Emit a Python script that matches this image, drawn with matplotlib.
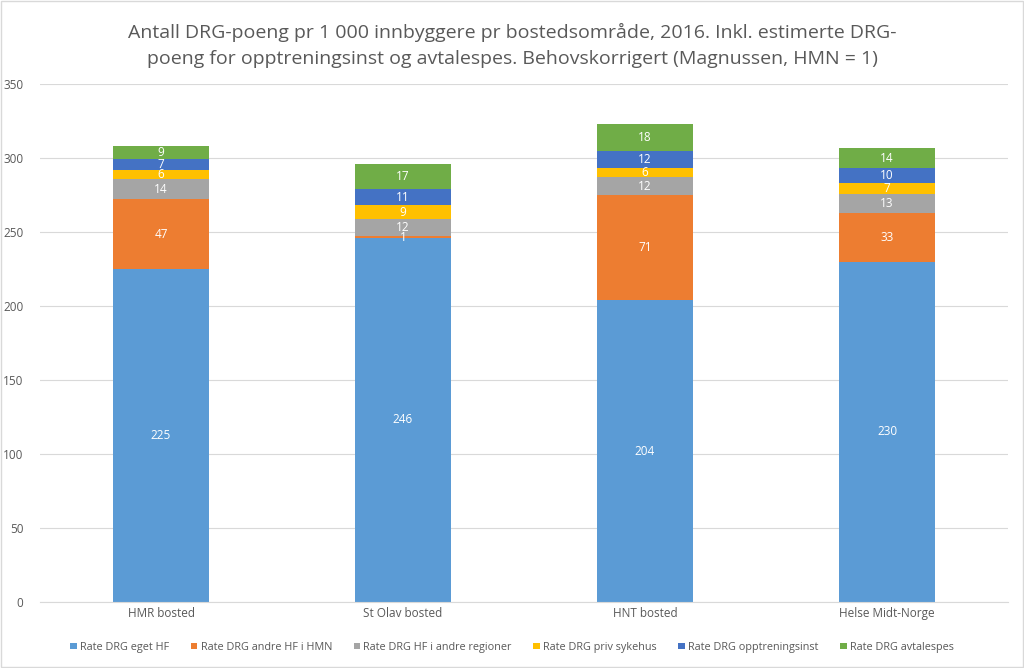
import matplotlib.pyplot as plt
import numpy as np

plt.rcParams['font.family'] = ['Open Sans', 'DejaVu Sans']

# data
steder = ["HMR bosted", "St Olav bosted", "HNT bosted", "Helse Midt-Norge"]
serier = ["Rate DRG eget HF", "Rate DRG andre HF i HMN", "Rate DRG HF i andre regioner",
          "Rate DRG priv sykehus", "Rate DRG opptreningsinst", "Rate DRG avtalespes"]
eget_hf = [225, 246, 204, 230]
andre_hf_hmn = [47, 1, 71, 33]
andre_regioner = [14, 12, 12, 13]
priv_sykehus = [6, 9, 6, 7]
opptrening = [7, 11, 12, 10]
avtalespes = [9, 17, 18, 14]
farger = ["#5B9BD5", "#ED7D31", "#A5A5A5", "#FFC000", "#4472C4", "#70AD47"]

verdier = [eget_hf, andre_hf_hmn, andre_regioner, priv_sykehus, opptrening, avtalespes]

fig = plt.figure(figsize=(10.24, 6.68), dpi=100)
ax = fig.add_axes([40/1024, 66/668, 968/1024, 518/668])

x = np.arange(len(steder))
bunn = np.zeros(len(steder))
for navn, v, c in zip(serier, verdier, farger):
    v = np.array(v, dtype=float)
    ax.bar(x, v, 0.4, bottom=bunn, color=c, label=navn, zorder=2)
    for xi, b, h in zip(x, bunn, v):
        ax.text(xi, b + h/2, str(int(h)), ha='center', va='center', color='white', fontsize=8.5, zorder=3)
    bunn += v

ax.set_xlim(-0.5, 3.5)
ax.set_ylim(0, 350)
ax.set_yticks(range(0, 351, 50))
ax.set_xticks(x)
ax.set_xticklabels(steder)
ax.grid(axis='y', color='#D9D9D9', linewidth=0.8, zorder=0)
for s in ['top', 'right', 'left']:
    ax.spines[s].set_visible(False)
ax.spines['bottom'].set_color('#D9D9D9')
ax.tick_params(axis='both', length=0, colors='#595959', labelsize=8.5)
ax.tick_params(axis='y', pad=12)

fig.text(0.5, 0.965, "Antall DRG-poeng pr 1 000 innbyggere pr bostedsområde, 2016. Inkl. estimerte DRG-\n"
         "poeng for opptreningsinst og avtalespes. Behovskorrigert (Magnussen, HMN = 1)",
         ha='center', va='top', fontsize=14, color='#595959', linespacing=1.55)

fig.legend(loc='center', bbox_to_anchor=(0.5, 0.031), ncol=6, frameon=False, fontsize=7.8,
           handlelength=0.6, handleheight=0.6, handletextpad=0.3, columnspacing=2.0,
           labelcolor='#595959')

fig.patches.append(plt.Rectangle((0.001, 0.001), 0.998, 0.998, transform=fig.transFigure,
                                 fill=False, edgecolor='#D9D9D9', linewidth=1))

fig.savefig("out.png", dpi=100)
